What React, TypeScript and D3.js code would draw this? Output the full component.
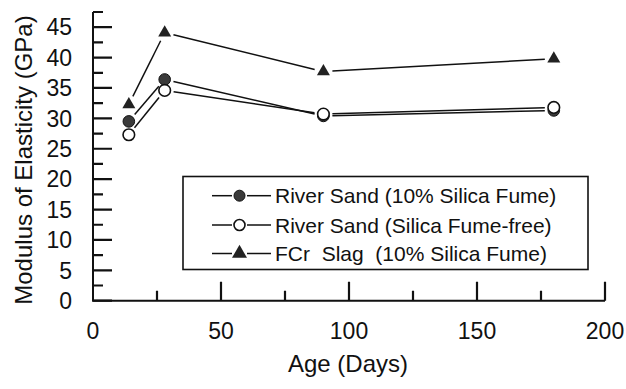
import React from 'react';
import * as d3 from 'd3';

const width = 626;
const height = 389;

// ages in days
const days = [14, 28, 90, 180];
// modulus of elasticity, GPa
const riverSandSF = [29.5, 36.4, 30.4, 31.3];
const riverSandFree = [27.3, 34.6, 30.7, 31.8];
const fcrSlag = [32.3, 44.1, 37.7, 39.8];

const xTickLabels = [0, 50, 100, 150, 200];
const yTickLabels = [0, 5, 10, 15, 20, 25, 30, 35, 40, 45];
const legendLabels = [
  'River Sand (10% Silica Fume)',
  'River Sand (Silica Fume-free)',
  'FCr  Slag  (10% Silica Fume)',
];

const font = '"Liberation Sans", Arial, Helvetica, sans-serif';
const ink = '#111';

const xScale = d3.scaleLinear().domain([0, 200]).range([93, 605]);
const yScale = d3.scaleLinear().domain([0, 47.5]).range([300.7, 12]);

const triangle = d3.symbol().type(d3.symbolTriangle);

// line segments between points, cut short so they don't touch the markers
function segments(values: number[], gap: number) {
  const pts = days.map((d, i) => [xScale(d), yScale(values[i])]);
  const out: string[] = [];
  for (let i = 0; i < pts.length - 1; i++) {
    const [x1, y1] = pts[i];
    const [x2, y2] = pts[i + 1];
    const len = Math.hypot(x2 - x1, y2 - y1);
    const ux = (x2 - x1) / len;
    const uy = (y2 - y1) / len;
    out.push(d3.line()([
      [x1 + ux * gap, y1 + uy * gap],
      [x2 - ux * gap, y2 - uy * gap],
    ]) as string);
  }
  return out;
}

function Marker({ kind, x, y, size }: { kind: string; x: number; y: number; size: number }) {
  if (kind === 'filled') {
    return <circle cx={x} cy={y} r={size} fill="#3a3a3a" stroke={ink} strokeWidth={1} />;
  }
  if (kind === 'open') {
    return <circle cx={x} cy={y} r={size} fill="#fff" stroke={ink} strokeWidth={1.6} />;
  }
  // size is the side length of the triangle
  const area = (Math.sqrt(3) / 4) * size * size;
  return <path d={triangle.size(area)() as string} transform={`translate(${x},${y})`} fill="#222" />;
}

const series = [
  { kind: 'filled', values: riverSandSF },
  { kind: 'open', values: riverSandFree },
  { kind: 'triangle', values: fcrSlag },
];

export default function App() {
  const yTicks = d3.range(0, 47.6, 2.5);
  const xTicks = d3.range(25, 201, 25);
  const legendRows = [195.7, 225, 253.5];

  const tickPath =
    yTicks.map(t => `M${xScale(0)},${yScale(t)}H${xScale(0) + (t % 5 === 0 ? 19 : 10)}`).join('') +
    xTicks.map(t => `M${xScale(t)},${yScale(0)}V${yScale(0) - (t % 50 === 0 ? 19 : 10)}`).join('');

  return (
    <svg width={width} height={height} style={{ position: 'absolute', left: 0, top: 0, background: '#fff' }}>
      {/* axes */}
      <path
        d={`M${xScale(0)},${yScale(47.5)}V${yScale(0)}H${xScale(200)}`}
        fill="none"
        stroke={ink}
        strokeWidth={2}
      />
      <path d={tickPath} fill="none" stroke={ink} strokeWidth={2.2} />

      {/* tick labels */}
      <g fontFamily={font} fontSize={23} fill={ink}>
        {yTickLabels.map(t => (
          <text key={t} x={72} y={yScale(t)} dy="0.36em" textAnchor="end">{t}</text>
        ))}
        {xTickLabels.map(t => (
          <text key={t} x={xScale(t)} y={339} textAnchor="middle">{t}</text>
        ))}
      </g>

      {/* axis titles */}
      <text x={348} y={372} textAnchor="middle" fontFamily={font} fontSize={24} fill={ink}>Age (Days)</text>
      <text transform="translate(32,160) rotate(-90)" textAnchor="middle" fontFamily={font} fontSize={24} fill={ink}>
        Modulus of Elasticity (GPa)
      </text>

      {/* data */}
      {series.map(s => (
        <g key={s.kind}>
          {segments(s.values, 9).map((d, i) => (
            <path key={i} d={d} fill="none" stroke={ink} strokeWidth={1.5} />
          ))}
        </g>
      ))}
      {[series[2], series[0], series[1]].map(s => (
        <g key={s.kind + 'm'}>
          {days.map((d, i) => (
            <Marker key={i} kind={s.kind} x={xScale(d)} y={yScale(s.values[i])} size={s.kind === 'triangle' ? 13 : 5.8} />
          ))}
        </g>
      ))}

      {/* legend */}
      <rect x={183} y={176.5} width={405} height={93} fill="#fff" stroke={ink} strokeWidth={1.6} />
      {series.map((s, i) => (
        <g key={'leg' + i}>
          <line x1={212} x2={232} y1={legendRows[i]} y2={legendRows[i]} stroke={ink} strokeWidth={1.5} />
          <line x1={247} x2={271} y1={legendRows[i]} y2={legendRows[i]} stroke={ink} strokeWidth={1.5} />
          <Marker kind={s.kind} x={239.5} y={legendRows[i]} size={s.kind === 'triangle' ? 15 : 5.5} />
          <text x={275} y={legendRows[i] + 7.5} fontFamily={font} fontSize={21} fill={ink} style={{ whiteSpace: 'pre' }}>
            {legendLabels[i]}
          </text>
        </g>
      ))}
    </svg>
  );
}
